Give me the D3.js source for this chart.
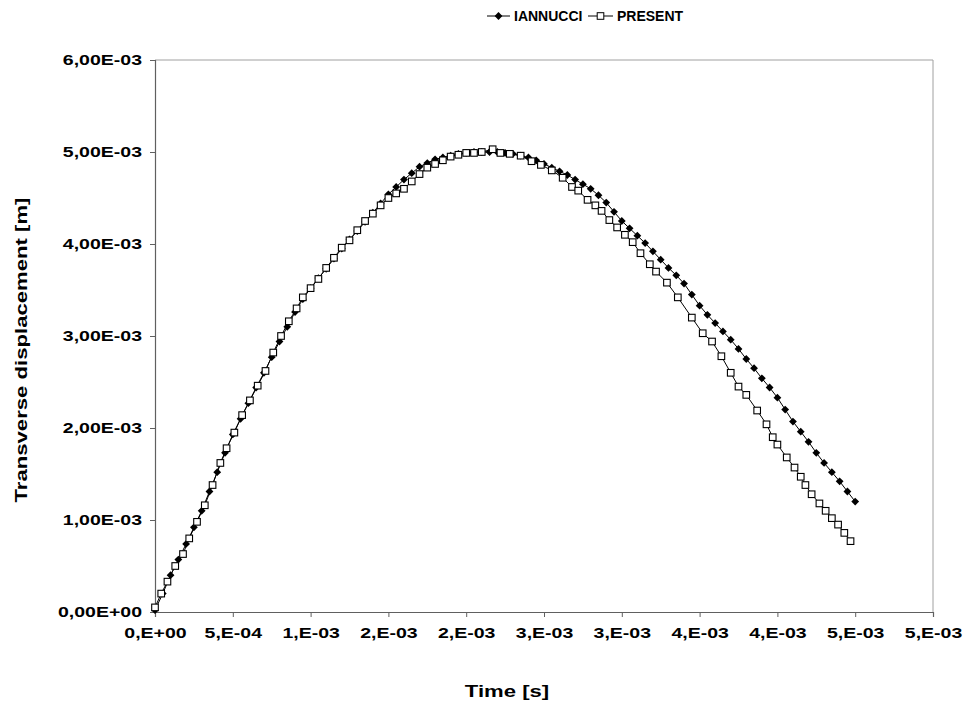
<!DOCTYPE html>
<html>
<head>
<meta charset="utf-8">
<script src="https://cdn.jsdelivr.net/npm/d3@7"></script>
<style>
body { margin: 0; background: #fff; }
svg text { font-family: "Liberation Sans", Arial, sans-serif; font-weight: bold; fill: #000; }
</style>
</head>
<body>
<svg id="chart" width="965" height="706"></svg>
<script>
// time in 1E-3 s, displacement in 1E-3 m
var iannucciT = [0.00,0.05,0.10,0.15,0.20,0.25,0.30,0.35,0.40,0.45,0.50,0.55,0.60,0.65,0.70,0.75,0.80,0.85,0.90,0.95,
    1.00,1.05,1.10,1.15,1.20,1.25,1.30,1.35,1.40,1.45,1.50,1.55,1.60,1.65,1.70,1.75,1.80,1.85,1.90,1.95,
    2.00,2.05,2.10,2.15,2.20,2.25,2.30,2.35,2.40,2.45,2.50,2.55,2.60,2.65,2.70,2.75,2.80,2.85,2.90,2.95,
    3.00,3.05,3.10,3.15,3.20,3.25,3.30,3.35,3.40,3.45,3.50,3.55,3.60,3.65,3.70,3.75,3.80,3.85,3.90,3.95,
    4.00,4.05,4.10,4.15,4.20,4.25,4.30,4.35,4.40,4.45,4.50];
var iannucciY = [0.02,0.20,0.40,0.57,0.74,0.92,1.10,1.31,1.52,1.73,1.93,2.10,2.27,2.44,2.60,2.77,2.94,3.10,3.26,3.40,
    3.52,3.63,3.73,3.84,3.95,4.05,4.14,4.24,4.34,4.44,4.54,4.62,4.70,4.77,4.84,4.88,4.92,4.94,4.96,4.98,
    4.99,5.00,5.00,5.00,5.00,4.99,4.98,4.96,4.94,4.91,4.87,4.83,4.79,4.75,4.70,4.65,4.60,4.53,4.45,4.35,
    4.25,4.17,4.09,4.01,3.92,3.83,3.74,3.66,3.57,3.45,3.33,3.23,3.14,3.05,2.96,2.86,2.75,2.65,2.54,2.44,
    2.33,2.20,2.07,1.96,1.85,1.73,1.62,1.52,1.42,1.31,1.20];

var presentT = [0.00,0.04,0.08,0.13,0.18,0.22,0.27,0.32,0.37,0.42,0.46,0.51,0.56,0.61,0.66,0.71,0.76,0.81,0.86,0.91,
    0.95,1.00,1.05,1.10,1.15,1.20,1.25,1.30,1.35,1.40,1.45,1.50,1.55,1.60,1.65,1.70,1.75,1.80,1.85,1.90,
    1.95,2.00,2.05,2.10,2.17,2.22,2.28,2.35,2.42,2.48,2.55,2.62,2.68,2.72,2.78,2.83,2.87,2.92,2.97,3.02,
    3.07,3.12,3.18,3.22,3.29,3.36,3.45,3.52,3.58,3.64,3.70,3.75,3.80,3.87,3.93,3.97,4.00,4.06,4.11,4.15,
    4.18,4.22,4.27,4.31,4.35,4.39,4.43,4.47];
var presentY = [0.05,0.20,0.33,0.50,0.63,0.80,0.98,1.16,1.38,1.62,1.78,1.95,2.14,2.30,2.46,2.62,2.82,3.00,3.16,3.30,
    3.42,3.52,3.62,3.74,3.85,3.96,4.04,4.15,4.25,4.33,4.42,4.50,4.55,4.60,4.68,4.76,4.83,4.87,4.91,4.95,
    4.97,4.99,4.99,5.00,5.03,4.99,4.98,4.96,4.90,4.86,4.80,4.72,4.62,4.58,4.48,4.42,4.36,4.26,4.18,4.10,
    4.02,3.90,3.78,3.70,3.58,3.42,3.20,3.03,2.94,2.78,2.60,2.45,2.36,2.19,2.04,1.90,1.82,1.68,1.57,1.47,
    1.38,1.28,1.18,1.10,1.02,0.95,0.86,0.77];

var xTicks = [0,0.5,1.0,1.5,2.0,2.5,3.0,3.5,4.0,4.5,5.0];
var xTickLabels = ["0,E+00","5,E-04","1,E-03","2,E-03","2,E-03","3,E-03","3,E-03","4,E-03","4,E-03","5,E-03","5,E-03"];
var yTicks = [0,1,2,3,4,5,6];
var yTickLabels = ["0,00E+00","1,00E-03","2,00E-03","3,00E-03","4,00E-03","5,00E-03","6,00E-03"];

var plot = { left: 155, right: 933, top: 60, bottom: 612 };
var svg = d3.select("#chart");

var xScale = d3.scaleLinear().domain([0, 5]).range([plot.left, plot.right]);
var yScale = d3.scaleLinear().domain([0, 6]).range([plot.bottom, plot.top]);

//widen text the way the picture is stretched
function stretch(sel, k) {
    sel.each(function() {
        var w = this.getComputedTextLength();
        d3.select(this).attr("textLength", w * k).attr("lengthAdjust", "spacingAndGlyphs");
    });
}

//plot area frame (top and right)
svg.append("path")
    .attr("d", `M${plot.left},${plot.top}H${plot.right}V${plot.bottom}`)
    .attr("fill", "none")
    .attr("stroke", "#a0a0a0")
    .attr("stroke-width", 1);

var yAxis = svg.append("g")
    .attr("transform", `translate(${plot.left},0)`)
    .call(d3.axisLeft(yScale).tickValues(yTicks).tickSize(5).tickPadding(8)
        .tickFormat((d, i) => yTickLabels[i]));

var xAxis = svg.append("g")
    .attr("transform", `translate(0,${plot.bottom})`)
    .call(d3.axisBottom(xScale).tickValues(xTicks).tickSize(5).tickPadding(10)
        .tickFormat((d, i) => xTickLabels[i]));

[xAxis, yAxis].forEach(a => {
    a.select(".domain").attr("stroke", "#606060").attr("stroke-width", 1.2);
    a.selectAll(".tick line").attr("stroke", "#606060");
    a.selectAll(".tick text").style("font-size", "15px").attr("fill", "#000");
    stretch(a.selectAll(".tick text"), 1.3);
});

//series
var line = d3.line().x(d => xScale(d[0])).y(d => yScale(d[1]));
var iannucci = iannucciT.map((t, i) => [t, iannucciY[i]]);
var present = presentT.map((t, i) => [t, presentY[i]]);

function diamondPath(r) {
    return `M0,${-r}L${r},0L0,${r}L${-r},0Z`;
}

svg.append("path").datum(iannucci)
    .attr("d", line).attr("fill", "none").attr("stroke", "#000").attr("stroke-width", 1);
svg.append("g").selectAll("path").data(iannucci).enter().append("path")
    .attr("d", diamondPath(3.9))
    .attr("transform", d => `translate(${xScale(d[0])},${yScale(d[1])})`)
    .attr("fill", "#000");

svg.append("path").datum(present)
    .attr("d", line).attr("fill", "none").attr("stroke", "#000").attr("stroke-width", 1);
svg.append("g").selectAll("rect").data(present).enter().append("rect")
    .attr("x", d => xScale(d[0]) - 3.3)
    .attr("y", d => yScale(d[1]) - 3.3)
    .attr("width", 6.6).attr("height", 6.6)
    .attr("fill", "#fff").attr("stroke", "#000").attr("stroke-width", 1.1);

//legend
var legend = svg.append("g").attr("transform", "translate(0,16)");
legend.append("line").attr("x1", 487).attr("x2", 510).attr("y1", 0).attr("y2", 0).attr("stroke", "#000");
legend.append("path").attr("d", diamondPath(3.9)).attr("transform", "translate(498.5,0)").attr("fill", "#000");
legend.append("text").attr("x", 514).attr("y", 5).style("font-size", "14px").text("IANNUCCI");
legend.append("line").attr("x1", 588).attr("x2", 613).attr("y1", 0).attr("y2", 0).attr("stroke", "#000");
legend.append("rect").attr("x", 597.2).attr("y", -3.3).attr("width", 6.6).attr("height", 6.6)
    .attr("fill", "#fff").attr("stroke", "#000");
legend.append("text").attr("x", 617).attr("y", 5).style("font-size", "14px").text("PRESENT");

//axis titles
svg.append("text")
    .attr("x", 507).attr("y", 697)
    .attr("text-anchor", "middle")
    .style("font-size", "17px")
    .text("Time [s]")
    .call(stretch, 1.3);

svg.append("text")
    .attr("transform", "translate(27,350) rotate(-90)")
    .attr("text-anchor", "middle")
    .style("font-size", "17px")
    .attr("textLength", 305)
    .attr("lengthAdjust", "spacingAndGlyphs")
    .text("Transverse displacement [m]");
</script>
</body>
</html>
